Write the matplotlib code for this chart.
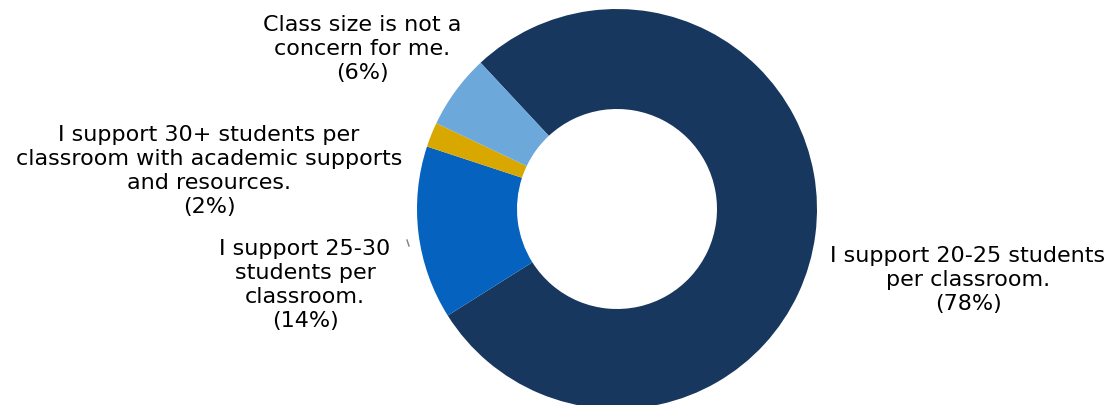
import matplotlib
matplotlib.use("Agg")
import matplotlib.pyplot as plt

# Data
categories = [
    "I support 20-25 students\nper classroom.",
    "I support 25-30\nstudents per\nclassroom.",
    "I support 30+ students per\nclassroom with academic supports\nand resources.",
    "Class size is not a\nconcern for me.",
]
values = [78, 14, 2, 6]
colors = ["#17375E", "#0563BF", "#D8A800", "#6DA8DB"]

W, H = 1119, 406
fig = plt.figure(figsize=(W / 100, H / 100), dpi=100)
ax = fig.add_axes([0, 0, 1, 1])

cx, cy, R = 617, H - 210, 200
ax.pie(values, colors=colors, startangle=133, counterclock=False,
       radius=R, center=(cx, cy), frame=True,
       wedgeprops=dict(width=R * 0.5, linewidth=0))
ax.set_xlim(0, W)
ax.set_ylim(0, H)
ax.set_aspect("equal")
ax.axis("off")

label_pos = [(968, H - 280), (305, H - 285), (209, H - 171), (362, H - 49)]
font = dict(family=["DejaVu Sans"], fontsize=16, color="#000000",
            ha="center", va="center", linespacing=1.27)
for cat, v, (x, y) in zip(categories, values, label_pos):
    ax.text(x, y, f"{cat}\n({v}%)", **font)

# small leader-line fragment next to the 25-30 label
ax.plot([407, 409], [H - 241, H - 247], color="#808080", lw=1)

fig.savefig("out.png", dpi=100)
